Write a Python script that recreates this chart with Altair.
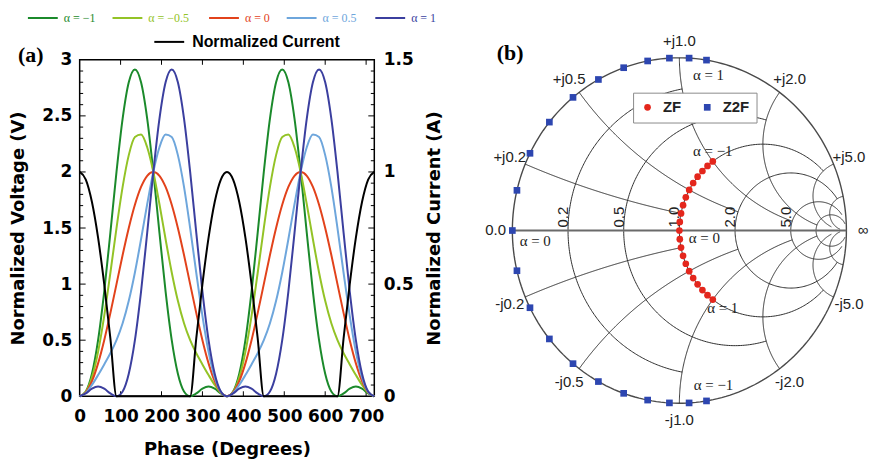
import numpy as np
import pandas as pd
import altair as alt

# ---------------- panel (a): waveforms ----------------
phase = list(range(0, 721, 15))

# one period (0..345 deg, step 15) of each normalised waveform
v_alpha_m1 = [0.000, 0.043, 0.201, 0.500, 0.933, 1.457, 2.000, 2.475, 2.799, 2.914, 2.799, 2.475,
              2.000, 1.457, 0.933, 0.500, 0.201, 0.043, 0.000, 0.025, 0.067, 0.086, 0.067, 0.025]
v_alpha_m05 = [0.000, 0.039, 0.168, 0.396, 0.717, 1.099, 1.500, 1.867, 2.150, 2.311, 2.333, 2.220,
               2.000, 1.712, 1.400, 1.104, 0.851, 0.651, 0.500, 0.383, 0.284, 0.189, 0.101, 0.030]
v_alpha_0 = [0.000, 0.034, 0.134, 0.293, 0.500, 0.741, 1.000, 1.259, 1.500, 1.707, 1.866, 1.966,
             2.000, 1.966, 1.866, 1.707, 1.500, 1.259, 1.000, 0.741, 0.500, 0.293, 0.134, 0.034]
v_alpha_05 = [0.000, 0.030, 0.101, 0.189, 0.284, 0.383, 0.500, 0.651, 0.851, 1.104, 1.400, 1.712,
              2.000, 2.220, 2.333, 2.311, 2.150, 1.867, 1.500, 1.099, 0.717, 0.396, 0.168, 0.039]
v_alpha_1 = [0.000, 0.025, 0.067, 0.086, 0.067, 0.025, 0.000, 0.043, 0.201, 0.500, 0.933, 1.457,
             2.000, 2.475, 2.799, 2.914, 2.799, 2.475, 2.000, 1.457, 0.933, 0.500, 0.201, 0.043]
i_norm = [1.000, 0.966, 0.866, 0.707, 0.500, 0.259, 0.000, 0.000, 0.000, 0.000, 0.000, 0.000,
          0.000, 0.000, 0.000, 0.000, 0.000, 0.000, 0.000, 0.259, 0.500, 0.707, 0.866, 0.966]

series_names = ["α = −1", "α = −0.5", "α = 0", "α = 0.5", "α = 1"]
series_colors = ["#1b8a2b", "#93c326", "#e2421b", "#6ea6dc", "#3b3f9f"]
current_name = "Normalized Current"

x_ticks = [0, 100, 200, 300, 400, 500, 600, 700]
v_ticks = [0, 0.5, 1, 1.5, 2, 2.5, 3]
i_ticks = [0, 0.5, 1, 1.5]
v_minor = [round(0.1 * k, 1) for k in range(1, 30) if k % 5]


def two_periods(p):
    return p + p + [p[0]]


rec = []
for nm, vals in zip(series_names, [v_alpha_m1, v_alpha_m05, v_alpha_0, v_alpha_05, v_alpha_1]):
    for ph, v in zip(phase, two_periods(vals)):
        rec.append({"phase": ph, "value": v, "series": nm})
df_v = pd.DataFrame(rec)
df_i = pd.DataFrame({"phase": phase, "current": two_periods(i_norm), "series": current_name})

W_A, H_A = 296, 338

x_a = alt.X("phase:Q", scale=alt.Scale(domain=[0, 720], nice=False, zero=False),
            axis=alt.Axis(values=x_ticks, title="Phase (Degrees)", ticks=False, domain=False, grid=False,
                          labelFlush=False, labelOverlap=False, labelPadding=12,
                          titleX=W_A / 2, titleY=59, titleAlign="center", titleBaseline="alphabetic"))
y_v = alt.Y("value:Q", scale=alt.Scale(domain=[0, 3], nice=False, zero=False),
            axis=alt.Axis(orient="left", values=v_ticks, format="~g", title="Normalized Voltage (V)",
                          ticks=False, domain=False, grid=False, labelPadding=8, labelFlush=False,
                          labelOverlap=False, titleAngle=270, titleX=-56, titleY=H_A / 2,
                          titleAlign="center", titleBaseline="alphabetic"))
y_i = alt.Y("current:Q", scale=alt.Scale(domain=[0, 1.5], nice=False, zero=False),
            axis=alt.Axis(orient="right", values=i_ticks, format="~g", title="Normalized Current (A)",
                          ticks=False, domain=False, grid=False, labelPadding=9, labelFlush=False,
                          labelOverlap=False, titleAngle=270, titleX=66, titleY=H_A / 2,
                          titleAlign="center", titleBaseline="alphabetic"))


def line_legend(lx, ly, color, font, size, weight):
    return alt.Legend(orient="none", legendX=lx, legendY=ly, direction="horizontal", title=None,
                      padding=0, symbolType="M-1,0H5", symbolSize=100, symbolStrokeWidth=2,
                      labelOffset=25, labelFont=font, labelFontSize=size, labelFontWeight=weight,
                      labelColor=color)


legend_x = [-53, 32, 129, 207, 296]
volt_layers = []
for nm, col, lx in zip(series_names, series_colors, legend_x):
    volt_layers.append(
        alt.Chart(df_v).transform_filter(alt.datum.series == nm)
        .mark_line(interpolate="monotone", strokeWidth=2)
        .encode(x=x_a, y=y_v,
                color=alt.Color("series:N", scale=alt.Scale(domain=[nm], range=[col]),
                                legend=line_legend(lx, -48, col, "Liberation Serif", 12, "normal")))
    )

tick_df_major = pd.DataFrame({"value": [0.5, 1.0, 1.5, 2.0, 2.5]})
tick_df_minor = pd.DataFrame({"value": v_minor})
tick_df_x = pd.DataFrame({"phase": x_ticks[1:]})
tick_layers = [
    alt.Chart(tick_df_major).mark_rule(color="black", strokeWidth=1).encode(y=y_v, x=alt.value(0), x2=alt.value(6)),
    alt.Chart(tick_df_minor).mark_rule(color="black", strokeWidth=1).encode(y=y_v, x=alt.value(0), x2=alt.value(3.5)),
    alt.Chart(tick_df_major).mark_rule(color="black", strokeWidth=1).encode(y=y_v, x=alt.value(W_A), x2=alt.value(W_A - 6)),
    alt.Chart(tick_df_minor).mark_rule(color="black", strokeWidth=1).encode(y=y_v, x=alt.value(W_A), x2=alt.value(W_A - 3.5)),
    alt.Chart(tick_df_x).mark_rule(color="black", strokeWidth=1).encode(x=x_a, y=alt.value(0), y2=alt.value(5)),
    alt.Chart(tick_df_x).mark_rule(color="black", strokeWidth=1).encode(x=x_a, y=alt.value(H_A), y2=alt.value(H_A - 5)),
]

volt_group = alt.layer(*tick_layers, *volt_layers).resolve_scale(color="independent")

cur_layer = alt.Chart(df_i).mark_line(interpolate="monotone", strokeWidth=2, color="black").encode(
    x=x_a, y=y_i,
    color=alt.Color("series:N", scale=alt.Scale(domain=[current_name], range=["black"]),
                    legend=line_legend(72, -26, "black", "Liberation Sans", 16, "bold")))

panel_a = alt.layer(volt_group, cur_layer).resolve_scale(y="independent", color="independent").properties(
    width=W_A, height=H_A,
    view=alt.ViewBackground(stroke="black", strokeWidth=1.5),
    title=alt.TitleParams(text="(a)", anchor="start", frame="group", orient="top", offset=0, dx=-62, dy=72,
                          baseline="alphabetic", font="Liberation Serif", fontSize=22, fontWeight="bold",
                          color="black"))

# ---------------- panel (b): Smith chart ----------------
alpha = [-1.0, -0.9, -0.8, -0.7, -0.6, -0.5, -0.4, -0.3, -0.2, -0.1, 0.0,
         0.1, 0.2, 0.3, 0.4, 0.5, 0.6, 0.7, 0.8, 0.9, 1.0]
zf_reactance = [1.0, 0.9, 0.8, 0.7, 0.6, 0.5, 0.4, 0.3, 0.2, 0.1, 0.0,
                -0.1, -0.2, -0.3, -0.4, -0.5, -0.6, -0.7, -0.8, -0.9, -1.0]
z2f_reactance = [-1.178, -1.060, -0.942, -0.825, -0.707, -0.589, -0.471, -0.353, -0.236, -0.118, 0.0,
                 0.118, 0.236, 0.353, 0.471, 0.589, 0.707, 0.825, 0.942, 1.060, 1.178]

r_grid = [0.2, 0.5, 1.0, 2.0, 5.0, 10.0]
r_stop = [1.0, 2.0, 5.0, 10.0, 20.0, 50.0]
x_grid = [0.2, 0.5, 1.0, 2.0, 5.0, 10.0]
x_stop = [1.0, 2.0, 5.0, 10.0, 20.0, 50.0]

r_label_vals = [0.2, 0.5, 1.0, 2.0, 5.0]
r_label_text = ["0.2", "0.5", "1.0", "2.0", "5.0"]
x_label_vals = [0.2, 0.5, 1.0, 2.0, 5.0, -0.2, -0.5, -1.0, -2.0, -5.0]
x_label_text = ["+j0.2", "+j0.5", "+j1.0", "+j2.0", "+j5.0", "-j0.2", "-j0.5", "-j1.0", "-j2.0", "-j5.0"]


def to_gamma(z):
    z = np.asarray(z, dtype=complex)
    return (z - 1) / (z + 1)


def r_circle(r, xlim, n=240):
    th_max = np.arctan(xlim / (r + 1)) if xlim is not None else np.pi / 2
    th = np.linspace(-th_max, th_max, n)
    return r / (r + 1) - (1 / (r + 1)) * np.exp(-2j * th)


def x_arc(x, rlim, n=240):
    th0 = np.arctan(x)
    th1 = np.arctan(x / (rlim + 1)) if rlim is not None else 0.0
    th = np.linspace(th0, th1, n)
    return 1 + 1j / x - (1j / x) * np.exp(-2j * th)


grid_rows = []
gid = [0]


def add_curve(g, kind):
    for k, v in enumerate(g):
        grid_rows.append({"gid": gid[0], "k": k, "gr": float(v.real), "gi": float(v.imag), "kind": kind})
    gid[0] += 1


add_curve(r_circle(0.0, None), "outer")
for r, s in zip(r_grid, r_stop):
    add_curve(r_circle(r, s), "grid")
for x, s in zip(x_grid, x_stop):
    add_curve(x_arc(x, s), "grid")
    add_curve(x_arc(-x, s), "grid")
add_curve(to_gamma([0.0, 1e9]), "axis")
grid_df = pd.DataFrame(grid_rows)

label_radius = 1.1
gx = to_gamma(1j * np.array(x_label_vals)) * label_radius
xlab_df = pd.DataFrame({"gr": list(gx.real) + [-label_radius, label_radius],
                        "gi": list(gx.imag) + [0.0, 0.0],
                        "text": x_label_text + ["0.0", "∞"]})
gr_lab = to_gamma(np.array(r_label_vals, dtype=float))
rlab_df = pd.DataFrame({"gr": gr_lab.real, "gi": 0.0, "text": r_label_text})

g_f = to_gamma(1 + 1j * np.array(zf_reactance))
g_2f = to_gamma(1j * np.array(z2f_reactance))
pts_df = pd.DataFrame({"gr": np.r_[g_2f.real, g_f.real], "gi": np.r_[g_2f.imag, g_f.imag],
                       "name": ["Z2F"] * len(alpha) + ["ZF"] * len(alpha),
                       "alpha": alpha + alpha})

W_B, H_B = 390, 338
PX_X, PX_Y = 167.8, 173.5
x_min = -(680.5 - 474) / PX_X
y_max = (229.5 - 58) / PX_Y
sx_b = alt.Scale(domain=[x_min, x_min + W_B / PX_X], nice=False, zero=False)
sy_b = alt.Scale(domain=[y_max - H_B / PX_Y, y_max], nice=False, zero=False)
xb = alt.X("gr:Q", scale=sx_b, axis=None)
yb = alt.Y("gi:Q", scale=sy_b, axis=None)

grid_layer = alt.Chart(grid_df).transform_filter(alt.datum.kind == "grid").mark_line(
    color="#2e2e2e", strokeWidth=1).encode(x=xb, y=yb, detail="gid:N", order="k:Q")
outer_layer = alt.Chart(grid_df).transform_filter(alt.datum.kind == "outer").mark_line(
    color="#4a4a4a", strokeWidth=1.4).encode(x=xb, y=yb, detail="gid:N", order="k:Q")
axis_layer = alt.Chart(grid_df).transform_filter(alt.datum.kind == "axis").mark_line(
    color="#6a6a6a", strokeWidth=2).encode(x=xb, y=yb, detail="gid:N", order="k:Q")

xlab_layer = alt.Chart(xlab_df).mark_text(font="Liberation Sans", fontSize=15, color="#222222",
                                          align="center", baseline="middle").encode(x=xb, y=yb, text="text:N")
rlab_layer = alt.Chart(rlab_df).mark_text(font="Liberation Sans", fontSize=15, color="#222222", angle=270,
                                          align="left", baseline="alphabetic", dx=3).encode(x=xb, y=yb, text="text:N")

pt_legend = alt.Legend(orient="none", legendX=160, legendY=33, direction="horizontal", title=None,
                       strokeColor="#8a8a8a", fillColor="white", padding=7, symbolSize=45,
                       symbolStrokeWidth=0, labelOffset=8, columnPadding=18,
                       labelFont="Liberation Sans", labelFontWeight="bold", labelFontSize=15,
                       labelColor="#222222")
pts_layer = alt.Chart(pts_df).mark_point(filled=True, opacity=1, size=45).encode(
    x=xb, y=yb,
    color=alt.Color("name:N", scale=alt.Scale(domain=["ZF", "Z2F"], range=["#e4261c", "#2d46b0"]), legend=pt_legend),
    shape=alt.Shape("name:N", scale=alt.Scale(domain=["ZF", "Z2F"], range=["circle", "square"]), legend=pt_legend))

annotations = [("Z2F", 1.0, "α = 1", 2, 15), ("ZF", -1.0, "α = −1", 0, -10), ("Z2F", 0.0, "α = 0", 23, 11),
               ("ZF", 0.0, "α = 0", 25, 8), ("ZF", 1.0, "α = 1", 10, 8), ("Z2F", -1.0, "α = −1", 7, -16)]
ann_layers = []
for nm, a, txt, ddx, ddy in annotations:
    row = pts_df[(pts_df["name"] == nm) & np.isclose(pts_df["alpha"], a)].copy()
    row["text"] = txt
    ann_layers.append(alt.Chart(row[["gr", "gi", "text"]]).mark_text(
        font="Liberation Serif", fontSize=15, color="#222222", align="center", baseline="middle",
        dx=ddx, dy=ddy).encode(x=xb, y=yb, text="text:N"))

panel_b = alt.layer(outer_layer, grid_layer, axis_layer, xlab_layer, rlab_layer, pts_layer, *ann_layers).properties(
    width=W_B, height=H_B,
    view=alt.ViewBackground(stroke="transparent"),
    title=alt.TitleParams(text="(b)", anchor="start", frame="group", orient="top", offset=0, dx=23, dy=49,
                          baseline="alphabetic", font="Liberation Serif", fontSize=22, fontWeight="bold",
                          color="black"))

chart = alt.hconcat(panel_a, panel_b, spacing=100, bounds="flush").resolve_scale(
    color="independent", shape="independent").properties(
    padding={"left": 1, "top": 2, "right": 0, "bottom": 0}).configure_view(
    stroke="transparent").configure_axis(
    labelFont="DejaVu Sans", labelFontWeight="bold", labelFontSize=17, labelColor="black",
    titleFont="DejaVu Sans", titleFontWeight="bold", titleFontSize=18, titleColor="black")

chart.save("out.html", embed_options={"renderer": "svg", "actions": False})
